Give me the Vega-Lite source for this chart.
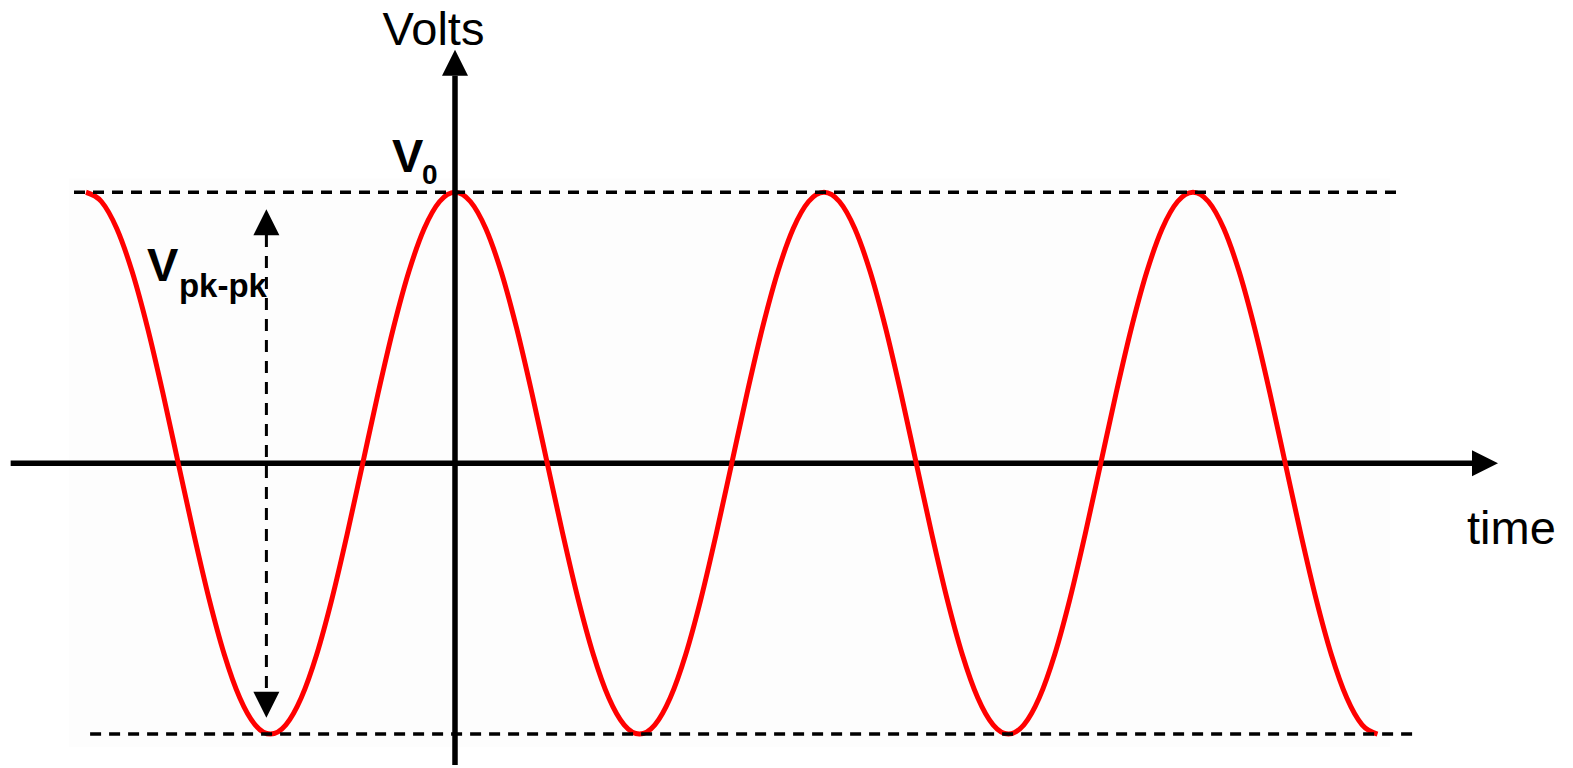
{
  "$schema": "https://vega.github.io/schema/vega-lite/v6.json",
  "width": 1573,
  "height": 768,
  "padding": 0,
  "autosize": {"type": "fit", "contains": "padding"},
  "background": "white",
  "config": {"view": {"stroke": null}},
  "encoding": {
    "x": {"type": "quantitative", "axis": null, "scale": {"domain": [-443.9, 1090.73], "nice": false, "zero": false}},
    "y": {"type": "quantitative", "axis": null, "scale": {"domain": [-1.114, 1.7096], "nice": false, "zero": false}}
  },
  "layer": [
    {
      "data": {"values": [{"x": -376.6, "x2": 912.2, "y": 1.051, "y2": -1.048}]},
      "mark": {"type": "rect", "fill": "#fdfdfd"},
      "encoding": {"x": {"field": "x"}, "x2": {"field": "x2"}, "y": {"field": "y"}, "y2": {"field": "y2"}}
    },
    {
      "data": {"values": [{"x": -433.5, "x2": 995, "y": 0, "y2": 0}]},
      "mark": {"type": "rule", "color": "black", "strokeWidth": 5.5, "strokeCap": "butt"},
      "encoding": {"x": {"field": "x"}, "x2": {"field": "x2"}, "y": {"field": "y"}, "y2": {"field": "y2"}}
    },
    {
      "data": {"values": [
        {"time": -360, "volts": 1}, {"time": -345, "volts": 0.9659}, {"time": -330, "volts": 0.866}, {"time": -315, "volts": 0.7071},
        {"time": -300, "volts": 0.5}, {"time": -285, "volts": 0.2588}, {"time": -270, "volts": 0}, {"time": -255, "volts": -0.2588},
        {"time": -240, "volts": -0.5}, {"time": -225, "volts": -0.7071}, {"time": -210, "volts": -0.866}, {"time": -195, "volts": -0.9659},
        {"time": -180, "volts": -1}, {"time": -165, "volts": -0.9659}, {"time": -150, "volts": -0.866}, {"time": -135, "volts": -0.7071},
        {"time": -120, "volts": -0.5}, {"time": -105, "volts": -0.2588}, {"time": -90, "volts": 0}, {"time": -75, "volts": 0.2588},
        {"time": -60, "volts": 0.5}, {"time": -45, "volts": 0.7071}, {"time": -30, "volts": 0.866}, {"time": -15, "volts": 0.9659},
        {"time": 0, "volts": 1}, {"time": 15, "volts": 0.9659}, {"time": 30, "volts": 0.866}, {"time": 45, "volts": 0.7071},
        {"time": 60, "volts": 0.5}, {"time": 75, "volts": 0.2588}, {"time": 90, "volts": 0}, {"time": 105, "volts": -0.2588},
        {"time": 120, "volts": -0.5}, {"time": 135, "volts": -0.7071}, {"time": 150, "volts": -0.866}, {"time": 165, "volts": -0.9659},
        {"time": 180, "volts": -1}, {"time": 195, "volts": -0.9659}, {"time": 210, "volts": -0.866}, {"time": 225, "volts": -0.7071},
        {"time": 240, "volts": -0.5}, {"time": 255, "volts": -0.2588}, {"time": 270, "volts": 0}, {"time": 285, "volts": 0.2588},
        {"time": 300, "volts": 0.5}, {"time": 315, "volts": 0.7071}, {"time": 330, "volts": 0.866}, {"time": 345, "volts": 0.9659},
        {"time": 360, "volts": 1}, {"time": 375, "volts": 0.9659}, {"time": 390, "volts": 0.866}, {"time": 405, "volts": 0.7071},
        {"time": 420, "volts": 0.5}, {"time": 435, "volts": 0.2588}, {"time": 450, "volts": 0}, {"time": 465, "volts": -0.2588},
        {"time": 480, "volts": -0.5}, {"time": 495, "volts": -0.7071}, {"time": 510, "volts": -0.866}, {"time": 525, "volts": -0.9659},
        {"time": 540, "volts": -1}, {"time": 555, "volts": -0.9659}, {"time": 570, "volts": -0.866}, {"time": 585, "volts": -0.7071},
        {"time": 600, "volts": -0.5}, {"time": 615, "volts": -0.2588}, {"time": 630, "volts": 0}, {"time": 645, "volts": 0.2588},
        {"time": 660, "volts": 0.5}, {"time": 675, "volts": 0.7071}, {"time": 690, "volts": 0.866}, {"time": 705, "volts": 0.9659},
        {"time": 720, "volts": 1}, {"time": 735, "volts": 0.9659}, {"time": 750, "volts": 0.866}, {"time": 765, "volts": 0.7071},
        {"time": 780, "volts": 0.5}, {"time": 795, "volts": 0.2588}, {"time": 810, "volts": 0}, {"time": 825, "volts": -0.2588},
        {"time": 840, "volts": -0.5}, {"time": 855, "volts": -0.7071}, {"time": 870, "volts": -0.866}, {"time": 885, "volts": -0.9659},
        {"time": 900, "volts": -1}
      ]},
      "mark": {"type": "line", "color": "#ff0000", "strokeWidth": 5, "interpolate": "monotone"},
      "encoding": {"x": {"field": "time"}, "y": {"field": "volts"}}
    },
    {
      "data": {"values": [
        {"x": -371.7, "x2": 923.9, "y": 1, "y2": 1},
        {"x": -356, "x2": 939.5, "y": -1, "y2": -1}
      ]},
      "mark": {"type": "rule", "color": "black", "strokeWidth": 3.5, "strokeDash": [11, 8], "strokeCap": "butt"},
      "encoding": {"x": {"field": "x"}, "x2": {"field": "x2"}, "y": {"field": "y"}, "y2": {"field": "y2"}}
    },
    {
      "data": {"values": [{"x": -184, "x2": -184, "y": 0.842, "y2": -0.842}]},
      "mark": {"type": "rule", "color": "black", "strokeWidth": 3, "strokeDash": [12, 9], "strokeCap": "butt"},
      "encoding": {"x": {"field": "x"}, "x2": {"field": "x2"}, "y": {"field": "y"}, "y2": {"field": "y2"}}
    },
    {
      "data": {"values": [{"x": 0, "x2": 0, "y": -1.114, "y2": 1.43}]},
      "mark": {"type": "rule", "color": "black", "strokeWidth": 5.5, "strokeCap": "butt"},
      "encoding": {"x": {"field": "x"}, "x2": {"field": "x2"}, "y": {"field": "y"}, "y2": {"field": "y2"}}
    },
    {
      "data": {"values": [
        {"x": 0, "y": 1.4779, "dir": "up"},
        {"x": 1004.9, "y": 0, "dir": "right"},
        {"x": -184, "y": 0.8897, "dir": "up"},
        {"x": -184, "y": -0.8915, "dir": "down"}
      ]},
      "mark": {"type": "point", "filled": true, "opacity": 1, "color": "black", "size": 676, "strokeWidth": 0},
      "encoding": {
        "x": {"field": "x"},
        "y": {"field": "y"},
        "shape": {"field": "dir", "type": "nominal", "legend": null,
          "scale": {"domain": ["up", "down", "right"], "range": ["M-1,1L0,-1L1,1Z", "M-1,-1L0,1L1,-1Z", "M-1,-1L1,0L-1,1Z"]}}
      }
    },
    {
      "data": {"values": [
        {"x": -21, "y": 1.544, "label": "Volts"}
      ]},
      "mark": {"type": "text", "font": "Liberation Sans", "fontSize": 47, "align": "center", "baseline": "alphabetic", "color": "black"},
      "encoding": {"x": {"field": "x"}, "y": {"field": "y"}, "text": {"field": "label"}}
    },
    {
      "data": {"values": [
        {"x": 987.3, "y": -0.2978, "label": "time"}
      ]},
      "mark": {"type": "text", "font": "Liberation Sans", "fontSize": 47, "align": "left", "baseline": "alphabetic", "color": "black"},
      "encoding": {"x": {"field": "x"}, "y": {"field": "y"}, "text": {"field": "label"}}
    },
    {
      "data": {"values": [
        {"x": -61.5, "y": 1.0735, "label": "V"},
        {"x": -300.5, "y": 0.6728, "label": "V"}
      ]},
      "mark": {"type": "text", "font": "Liberation Sans", "fontWeight": "bold", "fontSize": 47, "align": "left", "baseline": "alphabetic", "color": "black"},
      "encoding": {"x": {"field": "x"}, "y": {"field": "y"}, "text": {"field": "label"}}
    },
    {
      "data": {"values": [
        {"x": -32.2, "y": 1.0294, "label": "0"}
      ]},
      "mark": {"type": "text", "font": "Liberation Sans", "fontWeight": "bold", "fontSize": 28, "align": "left", "baseline": "alphabetic", "color": "black"},
      "encoding": {"x": {"field": "x"}, "y": {"field": "y"}, "text": {"field": "label"}}
    },
    {
      "data": {"values": [
        {"x": -269.3, "y": 0.614, "label": "pk-pk"}
      ]},
      "mark": {"type": "text", "font": "Liberation Sans", "fontWeight": "bold", "fontSize": 33, "align": "left", "baseline": "alphabetic", "color": "black"},
      "encoding": {"x": {"field": "x"}, "y": {"field": "y"}, "text": {"field": "label"}}
    }
  ]
}
